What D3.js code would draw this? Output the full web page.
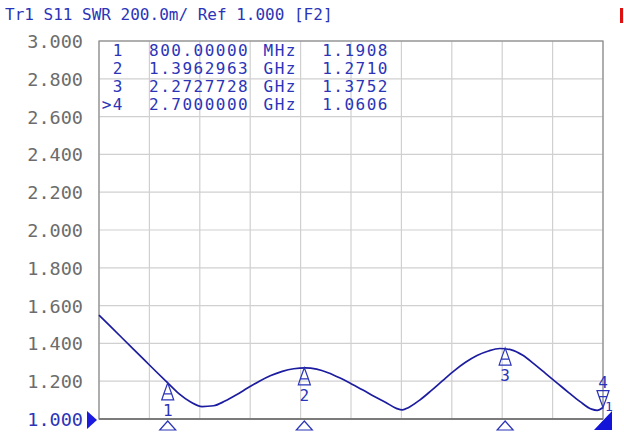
<!DOCTYPE html>
<html>
<head>
<meta charset="utf-8">
<script src="https://cdn.jsdelivr.net/npm/d3@7"></script>
<style>
  body { margin: 0; background: #fff; }
  svg { display: block; }
</style>
</head>
<body>
<script>
// trace data (MHz, SWR)
const freqs = [500, 550, 600, 650, 700, 750, 800, 850, 900, 950, 1000, 1050, 1100, 1150, 1200,
  1250, 1300, 1350, 1400, 1450, 1500, 1550, 1600, 1650, 1700, 1750, 1800, 1825, 1850, 1900,
  1950, 2000, 2050, 2100, 2150, 2200, 2250, 2300, 2350, 2400, 2450, 2500, 2550, 2600, 2650,
  2675, 2700];
const swr = [1.550, 1.490, 1.430, 1.370, 1.310, 1.250, 1.191, 1.133, 1.090, 1.066, 1.070, 1.095,
  1.128, 1.165, 1.200, 1.230, 1.252, 1.266, 1.271, 1.264, 1.245, 1.218, 1.187, 1.155, 1.121,
  1.089, 1.055, 1.048, 1.060, 1.100, 1.150, 1.203, 1.255, 1.300, 1.336, 1.360, 1.373, 1.366,
  1.337, 1.290, 1.240, 1.190, 1.140, 1.092, 1.052, 1.046, 1.0606];

const yTicks = [1.0, 1.2, 1.4, 1.6, 1.8, 2.0, 2.2, 2.4, 2.6, 2.8, 3.0];
const xTicks = [500, 720, 940, 1160, 1380, 1600, 1820, 2040, 2260, 2480, 2700];

const mkId = ["1", "2", "3", ">4"];
const mkFreq = [800, 1396.2963, 2272.7728, 2700];
const mkFreqText = ["800.00000", "1.3962963", "2.2727728", "2.7000000"];
const mkUnit = ["MHz", "GHz", "GHz", "GHz"];
const mkVal = [1.1908, 1.2710, 1.3752, 1.0606];

const W = 624, H = 432;
const blue = "#2b34b8", trace = "#1c1ca0", grey = "#6c6c6c";
const mono = "'DejaVu Sans Mono', monospace";

const svg = d3.select("body").append("svg").attr("width", W).attr("height", H);

const x = d3.scaleLinear().domain([500, 2700]).range([99, 603]);
const y = d3.scaleLinear().domain([1, 3]).range([419, 41]);

// header
svg.append("text").attr("x", 5).attr("y", 20)
  .attr("font-family", mono).attr("font-size", 16).attr("fill", blue)
  .text("Tr1 S11 SWR 200.0m/ Ref 1.000 [F2]");
svg.append("rect").attr("x", 620).attr("y", 8).attr("width", 3).attr("height", 15).attr("fill", "#e01010");

// grid
const g = svg.append("g");
g.selectAll("line.h").data(yTicks).join("line")
  .attr("x1", 99).attr("x2", 603).attr("y1", d => y(d)).attr("y2", d => y(d))
  .attr("stroke", "#d0d0d0").attr("stroke-width", 1.2);
g.selectAll("line.v").data(xTicks).join("line")
  .attr("y1", 41).attr("y2", 419).attr("x1", d => x(d)).attr("x2", d => x(d))
  .attr("stroke", "#d0d0d0").attr("stroke-width", 1.2);
g.append("rect").attr("x", 99).attr("y", 41).attr("width", 504).attr("height", 378)
  .attr("fill", "none").attr("stroke", "#8a8a8a").attr("stroke-width", 1.2);
g.append("line").attr("x1", 99).attr("x2", 603).attr("y1", 419).attr("y2", 419)
  .attr("stroke", "#6a6a6a").attr("stroke-width", 1.5);

// y labels
svg.selectAll("text.yl").data(yTicks).join("text")
  .attr("x", 83).attr("y", d => y(d) + 7)
  .attr("text-anchor", "end").attr("font-family", mono).attr("font-size", 18.5)
  .attr("fill", d => d === 1 ? blue : grey)
  .text(d => d3.format(".3f")(d));

// reference arrow
svg.append("path").attr("d", "M87,411 L97,420 L87,429 Z").attr("fill", "#1a1ae0");

// marker table
const tbl = svg.append("g").attr("font-family", mono).attr("font-size", 16)
  .attr("fill", blue).attr("letter-spacing", 1.5);
mkId.forEach((id, i) => {
  const by = 56 + i * 18;
  tbl.append("text").attr("x", 124).attr("y", by).attr("text-anchor", "end").text(id);
  tbl.append("text").attr("x", 149).attr("y", by).text(mkFreqText[i]);
  tbl.append("text").attr("x", 297).attr("y", by).attr("text-anchor", "end").text(mkUnit[i]);
  tbl.append("text").attr("x", 389).attr("y", by).attr("text-anchor", "end").text(mkVal[i].toFixed(4));
});

// trace
const line = d3.line().x((d, i) => x(freqs[i])).y(d => y(d)).curve(d3.curveMonotoneX);
svg.append("path").datum(swr).attr("d", line)
  .attr("fill", "none").attr("stroke", trace).attr("stroke-width", 1.7);

// markers on trace
mkFreq.forEach((f, i) => {
  const mx = x(f), my = y(mkVal[i]);
  const last = i === mkFreq.length - 1;
  const s = last ? -1 : 1;
  svg.append("path")
    .attr("d", `M${mx},${my} L${mx - 4},${my + s * 11} L${mx - 6},${my + s * 17} L${mx + 6},${my + s * 17} L${mx + 4},${my + s * 11} Z M${mx - 4},${my + s * 11} L${mx + 4},${my + s * 11}`)
    .attr("fill", "none").attr("stroke", blue).attr("stroke-width", 1.2);
  svg.append("text").attr("x", mx).attr("y", last ? my - 20 : my + 33)
    .attr("text-anchor", "middle").attr("font-family", mono).attr("font-size", 16)
    .attr("fill", blue).text(mkId[i].replace(">", ""));
  // triangles below axis
  if (!last) {
    svg.append("path").attr("d", `M${mx},421 L${mx - 8},430 L${mx + 8},430 Z`)
      .attr("fill", "none").attr("stroke", blue).attr("stroke-width", 1.2);
  } else {
    svg.append("path").attr("d", `M${mx - 9},430 L${mx + 9},430 L${mx + 9},411 Z`).attr("fill", "#1414d8");
    svg.append("path").attr("d", `M${mx},421 L${mx - 8},430 L${mx + 8},430 Z`).attr("fill", "#1414d8");
    svg.append("text").attr("x", mx + 6).attr("y", 411).attr("text-anchor", "middle")
      .attr("font-family", mono).attr("font-size", 13).attr("fill", blue).text("1");
  }
});
</script>
</body>
</html>
